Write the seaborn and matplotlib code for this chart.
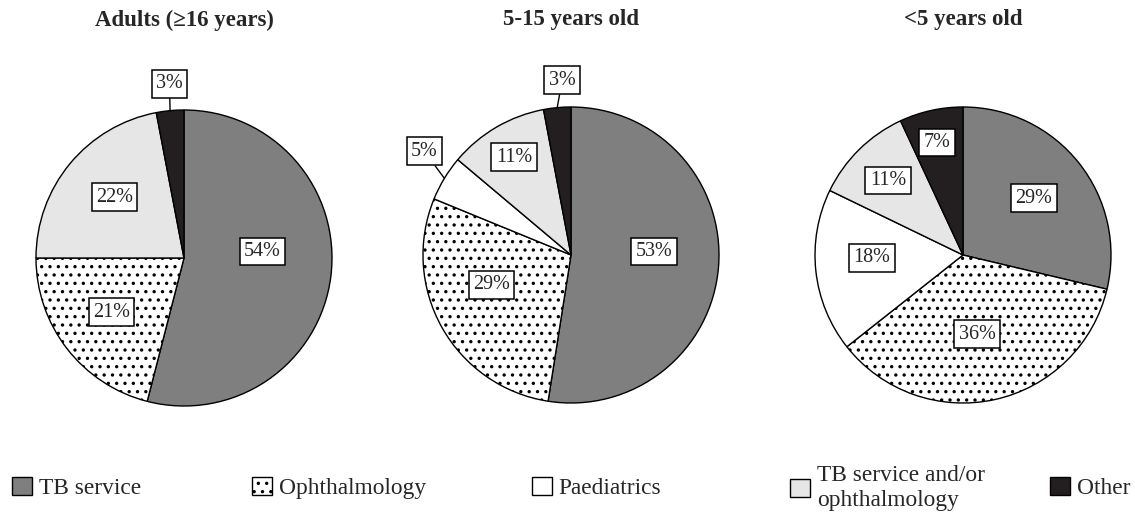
import matplotlib
matplotlib.use("Agg")
import numpy as np
import matplotlib.pyplot as plt
import seaborn as sns
from matplotlib.patches import Patch

# ---------------- data ----------------
categories = ["TB service", "Ophthalmology", "Paediatrics",
              "TB service and/or\nophthalmology", "Other"]
titles = ["Adults (\u226516 years)", "5-15 years old", "<5 years old"]
adults = [54, 21, 0, 22, 3]
age_5_15 = [53, 29, 5, 11, 3]
under_5 = [29, 36, 18, 11, 7]
groups = [adults, age_5_15, under_5]

# ---------------- style ----------------
sns.set_theme(style="white")
plt.rcParams["font.family"] = ["Liberation Serif", "DejaVu Serif"]
plt.rcParams["hatch.color"] = "black"
plt.rcParams["hatch.linewidth"] = 1.2

colors = ["#7f7f80", "white", "white", "#e6e6e6", "#231f20"]
hatches = [None, "..", None, None, None]

W, H = 1135, 515
R = 148  # pie radius in px
centers_px = [(184, 258), (571, 255), (963, 255)]

# label placement (in units of radius, relative to pie centre)
label_xy = [
    {0: (0.53, 0.044), 1: (-0.49, -0.365), 3: (-0.47, 0.41), 4: (-0.098, 1.176)},
    {0: (0.56, 0.024), 1: (-0.537, -0.20), 2: (-0.99, 0.70), 3: (-0.385, 0.66), 4: (-0.06, 1.18)},
    {0: (0.48, 0.385), 1: (0.095, -0.534), 2: (-0.615, -0.02), 3: (-0.507, 0.503), 4: (-0.176, 0.76)},
]
outside = {(0, 4), (1, 2), (1, 4)}

fig = plt.figure(figsize=(W / 100, H / 100), dpi=100)
fig.patch.set_facecolor("white")

box_w = 340
L = box_w / (2 * R)
for gi, (vals, (cx, cy)) in enumerate(zip(groups, centers_px)):
    ax = fig.add_axes([(cx - box_w / 2) / W, (H - cy - box_w / 2) / H, box_w / W, box_w / H])
    idx = [i for i, v in enumerate(vals) if v > 0]
    v = [vals[i] for i in idx]
    wedges, _ = ax.pie(v, colors=[colors[i] for i in idx], startangle=90, counterclock=False,
                       radius=1, wedgeprops=dict(edgecolor="black", linewidth=1.0))
    for w, i in zip(wedges, idx):
        if hatches[i]:
            w.set_hatch(hatches[i])
    ax.set_xlim(-L, L)
    ax.set_ylim(-L, L)
    ax.set_aspect("equal")
    ax.axis("off")
    total = sum(v)
    cum = 0
    for w, i in zip(wedges, idx):
        frac_mid = (cum + vals[i] / 2) / total
        cum += vals[i]
        ang = np.deg2rad(90 - frac_mid * 360)
        tx, ty = label_xy[gi][i]
        bbox = dict(boxstyle="square,pad=0.22", facecolor="white", edgecolor="black", linewidth=1.1)
        if (gi, i) in outside:
            ax.annotate(f"{vals[i]}%", xy=(np.cos(ang), np.sin(ang)), xytext=(tx, ty),
                        ha="center", va="center", fontsize=14.5, bbox=bbox,
                        arrowprops=dict(arrowstyle="-", color="black", lw=1.0,
                                        shrinkA=0, shrinkB=0))
        else:
            ax.text(tx, ty, f"{vals[i]}%", ha="center", va="center", fontsize=14.5, bbox=bbox)
    fig.text(cx / W, 1 - 20 / H, titles[gi], ha="center", va="center",
             fontsize=16.5, fontweight="bold")

# legend: one entry per category at its own position
leg_x = [12, 252, 532, 790, 1050]
for i, cat in enumerate(categories):
    handle = Patch(facecolor=colors[i], edgecolor="black", linewidth=1.0,
                   hatch=hatches[i] if hatches[i] else None)
    fig.legend(handles=[handle], labels=[cat], loc="center left",
               bbox_to_anchor=(leg_x[i] / W, 1 - 488 / H), frameon=False,
               fontsize=16.8, handlelength=0.85, handleheight=0.85,
               handletextpad=0.3, borderpad=0, borderaxespad=0, labelspacing=0)

fig.savefig("out.png", dpi=100, facecolor="white")
